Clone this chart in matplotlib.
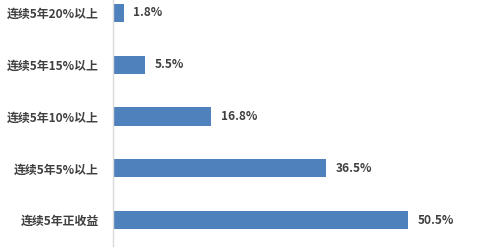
import matplotlib
matplotlib.use('Agg')
import matplotlib.pyplot as plt

plt.rcParams['font.family'] = ['Noto Sans CJK SC', 'DejaVu Sans']

categories = ['连续5年正收益', '连续5年5%以上', '连续5年10%以上', '连续5年15%以上', '连续5年20%以上']
values = [50.5, 36.5, 16.8, 5.5, 1.8]
value_labels = ['50.5%', '36.5%', '16.8%', '5.5%', '1.8%']

fig = plt.figure(figsize=(4.81, 2.5), dpi=100)
ax = fig.add_axes([113 / 481, 4 / 250, 1 - 113 / 481, 246 / 250])

pos = list(range(len(categories)))
ax.barh(pos, values, height=0.35, color='#4F81BD')

for p, v, lab in zip(pos, values, value_labels):
    ax.text(v + 1.7, p, lab, va='center', ha='left', fontsize=8.6,
            fontweight='bold', color='#404040')

ax.set_xlim(0, 63)
ax.set_ylim(-0.5, 4.25)
ax.set_yticks(pos)
ax.set_yticklabels(categories, fontsize=8.6, fontweight='bold', color='#404040')
ax.tick_params(axis='y', length=0, pad=10)
ax.set_xticks([])

for s in ['top', 'right', 'bottom']:
    ax.spines[s].set_visible(False)
ax.spines['left'].set_color('#D9D9D9')
ax.spines['left'].set_linewidth(1)

fig.savefig('out.png', dpi=100)
